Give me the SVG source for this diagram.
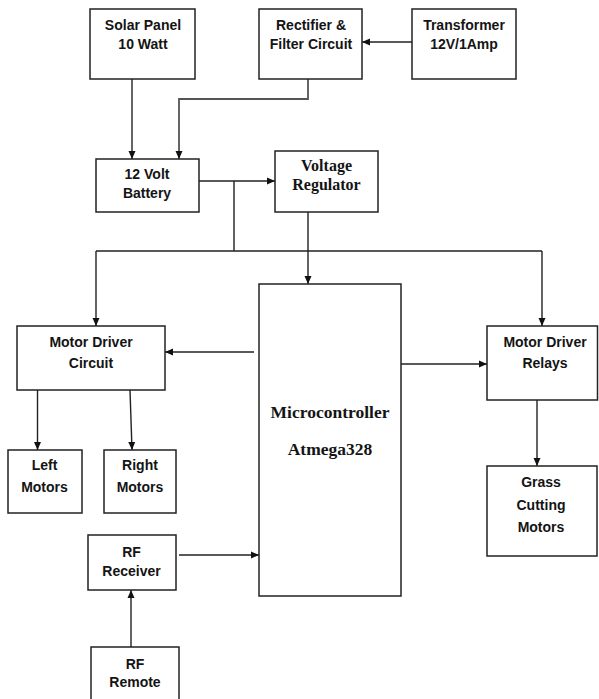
<svg xmlns="http://www.w3.org/2000/svg" width="599" height="699" viewBox="0 0 599 699">
<defs>
<marker id="ah" markerWidth="8" markerHeight="8" refX="8" refY="4" orient="auto" markerUnits="userSpaceOnUse">
<path d="M0,0.5 L8,4 L0,7.5 z" fill="#111"/>
</marker>
<style>
.box{fill:#fff;stroke:#222;stroke-width:1.5}
.t{font-family:"Liberation Sans",Arial,sans-serif;font-weight:bold;font-size:14px;fill:#141414;text-anchor:middle}
.s{font-family:"Liberation Serif","Times New Roman",serif;font-weight:bold;font-size:16px;fill:#141414;text-anchor:middle}
.m{font-size:17.5px}
.c{fill:none;stroke:#222;stroke-width:1.4}
.g{stroke:#555;stroke-width:1.8}
</style>
</defs>
<rect width="599" height="699" fill="#fff"/>
<g id="connectors">
<path class="c g" d="M132,79 V159" marker-end="url(#ah)"/>
<path class="c g" d="M308,79 V99 H179 V159" marker-end="url(#ah)"/>
<path class="c" d="M412,42 H362" marker-end="url(#ah)"/>
<path class="c" d="M199,181 H275" marker-end="url(#ah)"/>
<path class="c" d="M234,181 V251 M96,251 H542"/>
<path class="c" d="M96,251 V326" marker-end="url(#ah)"/>
<path class="c" d="M542,251 V326" marker-end="url(#ah)"/>
<path class="c" d="M308,212 V284" marker-end="url(#ah)"/>
<path class="c" d="M254,352 H165" marker-end="url(#ah)"/>
<path class="c" d="M401,364 H487" marker-end="url(#ah)"/>
<path class="c" d="M37.5,390 V450" marker-end="url(#ah)"/>
<path class="c" d="M130,390 L132,450" marker-end="url(#ah)"/>
<path class="c" d="M537,400 V466" marker-end="url(#ah)"/>
<path class="c" d="M179,555 H259" marker-end="url(#ah)"/>
<path class="c" d="M131,647 V590" marker-end="url(#ah)"/>
</g>
<g id="solar"><rect class="box" x="90" y="9" width="105" height="70"/><text class="t" x="143" y="30">Solar Panel</text><text class="t" x="143" y="48.5">10 Watt</text></g>
<g id="rectifier"><rect class="box" x="259" y="9" width="103" height="70"/><text class="t" x="311" y="30">Rectifier &amp;</text><text class="t" x="311" y="48.5">Filter Circuit</text></g>
<g id="transformer"><rect class="box" x="412" y="9" width="104" height="70"/><text class="t" x="464" y="30">Transformer</text><text class="t" x="464" y="48.5">12V/1Amp</text></g>
<g id="battery"><rect class="box" x="96" y="159" width="103" height="53"/><text class="t" x="147" y="179">12 Volt</text><text class="t" x="147" y="197.5">Battery</text></g>
<g id="regulator"><rect class="box" x="275" y="151" width="103" height="61"/><text class="s" x="326.5" y="170.5">Voltage</text><text class="s" x="326.5" y="189.5">Regulator</text></g>
<g id="micro"><rect class="box" x="259" y="284" width="142" height="312"/><text class="s m" x="330" y="418">Microcontroller</text><text class="s m" x="330" y="455">Atmega328</text></g>
<g id="mdc"><rect class="box" x="17" y="326" width="148" height="64"/><text class="t" x="91" y="347">Motor Driver</text><text class="t" x="91" y="368">Circuit</text></g>
<g id="mdr"><rect class="box" x="487" y="326" width="110.5" height="74"/><text class="t" x="545" y="347">Motor Driver</text><text class="t" x="545" y="367.5">Relays</text></g>
<g id="left"><rect class="box" x="8" y="450" width="74" height="63"/><text class="t" x="44.5" y="470">Left</text><text class="t" x="44.5" y="492">Motors</text></g>
<g id="right"><rect class="box" x="104" y="450" width="72" height="63"/><text class="t" x="140" y="470">Right</text><text class="t" x="140" y="492">Motors</text></g>
<g id="grass"><rect class="box" x="487" y="466" width="110" height="90"/><text class="t" x="541" y="487">Grass</text><text class="t" x="541" y="510">Cutting</text><text class="t" x="541" y="531.5">Motors</text></g>
<g id="receiver"><rect class="box" x="88" y="535" width="88" height="55"/><text class="t" x="131.5" y="557">RF</text><text class="t" x="131.5" y="575.5">Receiver</text></g>
<g id="remote"><rect class="box" x="91" y="647" width="88" height="60"/><text class="t" x="135" y="668.5">RF</text><text class="t" x="135" y="687">Remote</text></g>
</svg>
